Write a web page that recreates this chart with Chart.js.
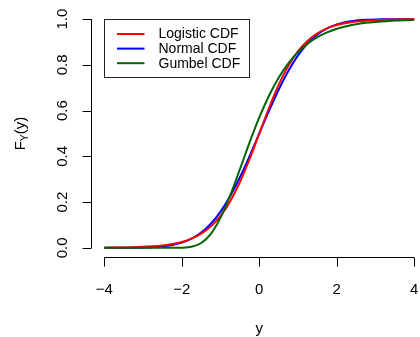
<!DOCTYPE html>
<html>
<head>
<meta charset="utf-8">
<script src="https://cdn.jsdelivr.net/npm/chart.js@4/dist/chart.umd.min.js"></script>
<style>
  html, body { margin: 0; padding: 0; background: #fff; overflow: hidden; }
  #wrap { position: relative; width: 420px; height: 337px; }
</style>
</head>
<body>
<div id="wrap"><canvas id="cdfChart" width="420" height="337"></canvas></div>
<script>
// values
const yValues = [-4, -3.75, -3.5, -3.25, -3, -2.75, -2.5, -2.25, -2, -1.75, -1.5, -1.25, -1, -0.75, -0.5, -0.25,
  0, 0.25, 0.5, 0.75, 1, 1.25, 1.5, 1.75, 2, 2.25, 2.5, 2.75, 3, 3.25, 3.5, 3.75, 4];
const logisticCdf = [0.0007, 0.0011, 0.0017, 0.0027, 0.0043, 0.0068, 0.0106, 0.0166, 0.0259, 0.0402, 0.0618, 0.0939,
  0.1401, 0.2042, 0.2876, 0.3885, 0.5000, 0.6115, 0.7124, 0.7958, 0.8599, 0.9061, 0.9382, 0.9598, 0.9741, 0.9834,
  0.9894, 0.9932, 0.9957, 0.9973, 0.9983, 0.9989, 0.9993];
const normalCdf = [0.0000, 0.0001, 0.0002, 0.0006, 0.0013, 0.0030, 0.0062, 0.0122, 0.0228, 0.0401, 0.0668, 0.1056,
  0.1587, 0.2266, 0.3085, 0.4013, 0.5000, 0.5987, 0.6915, 0.7734, 0.8413, 0.8944, 0.9332, 0.9599, 0.9772, 0.9878,
  0.9938, 0.9970, 0.9987, 0.9994, 0.9998, 0.9999, 1.0000];
const gumbelCdf = [0, 0, 0, 0, 0, 0, 0, 0, 0.0007, 0.0050, 0.0214, 0.0614,
  0.132, 0.230, 0.344, 0.461, 0.570, 0.665, 0.744, 0.807, 0.856, 0.893, 0.921, 0.942, 0.958, 0.969,
  0.978, 0.984, 0.988, 0.991, 0.994, 0.995, 0.997];

const seriesNames = ['Logistic CDF', 'Normal CDF', 'Gumbel CDF'];
const seriesColors = ['#ff0000', '#0000ff', '#006400'];

const xTicks = [-4, -2, 0, 2, 4];
const xTickLabels = ['\u22124', '\u22122', '0', '2', '4'];
const yTicks = [0, 0.2, 0.4, 0.6, 0.8, 1.0];
const yTickLabels = ['0.0', '0.2', '0.4', '0.6', '0.8', '1.0'];

const FONT = '"Liberation Sans", Arial, Helvetica, sans-serif';
const AXIS_FONT = '15px ' + FONT;
const LEGEND_FONT = '14px ' + FONT;

const toPoints = (vals) => vals.map((v, i) => ({ x: yValues[i], y: v }));

// R-style axes, labels and legend
const baseAxes = {
  id: 'baseAxes',
  afterDraw(chart) {
    const ctx = chart.ctx;
    const area = chart.chartArea;
    const xs = chart.scales.x;
    const ys = chart.scales.y;
    ctx.save();
    ctx.strokeStyle = '#000';
    ctx.fillStyle = '#000';
    ctx.lineWidth = 1;

    // x axis
    const xAxisY = Math.round(area.bottom) + 0.5;
    ctx.beginPath();
    ctx.moveTo(xs.getPixelForValue(xTicks[0]), xAxisY);
    ctx.lineTo(xs.getPixelForValue(xTicks[xTicks.length - 1]), xAxisY);
    xTicks.forEach(t => {
      const px = Math.round(xs.getPixelForValue(t)) + 0.5;
      ctx.moveTo(px, xAxisY);
      ctx.lineTo(px, xAxisY + 9);
    });
    ctx.stroke();
    ctx.font = AXIS_FONT;
    ctx.textAlign = 'center';
    ctx.textBaseline = 'alphabetic';
    xTicks.forEach((t, i) => {
      ctx.fillText(xTickLabels[i], xs.getPixelForValue(t), xAxisY + 36);
    });

    // y axis
    const yAxisX = Math.round(area.left) - 0.5;
    ctx.beginPath();
    ctx.moveTo(yAxisX, ys.getPixelForValue(yTicks[0]));
    ctx.lineTo(yAxisX, ys.getPixelForValue(yTicks[yTicks.length - 1]));
    yTicks.forEach(t => {
      const py = Math.round(ys.getPixelForValue(t)) + 0.5;
      ctx.moveTo(yAxisX, py);
      ctx.lineTo(yAxisX - 9, py);
    });
    ctx.stroke();
    yTicks.forEach((t, i) => {
      ctx.save();
      ctx.translate(yAxisX - 25, ys.getPixelForValue(t));
      ctx.rotate(-Math.PI / 2);
      ctx.fillText(yTickLabels[i], 0, 0);
      ctx.restore();
    });

    // axis titles
    ctx.fillText('y', xs.getPixelForValue(0), xAxisY + 75);
    ctx.save();
    ctx.translate(yAxisX - 67, (area.top + area.bottom) / 2);
    ctx.rotate(-Math.PI / 2);
    ctx.textAlign = 'left';
    const wF = ctx.measureText('F').width;
    ctx.font = '10.5px ' + FONT;
    const wSub = ctx.measureText('Y').width;
    ctx.font = AXIS_FONT;
    const wPar = ctx.measureText('(y)').width;
    const x0 = -(wF + wSub + wPar) / 2;
    ctx.fillText('F', x0, 0);
    ctx.font = '10.5px ' + FONT;
    ctx.fillText('Y', x0 + wF, 3.5);
    ctx.font = AXIS_FONT;
    ctx.fillText('(y)', x0 + wF + wSub, 0);
    ctx.restore();

    // legend
    const lx = Math.round(xs.getPixelForValue(-4)) + 0.5;
    const ly = Math.round(ys.getPixelForValue(1)) + 0.5;
    ctx.strokeStyle = '#222';
    ctx.strokeRect(lx, ly, 145, 58);
    ctx.font = LEGEND_FONT;
    ctx.textAlign = 'left';
    ctx.textBaseline = 'middle';
    seriesNames.forEach((name, i) => {
      const rowY = ly + 14.5 + i * 14.6;
      ctx.strokeStyle = seriesColors[i];
      ctx.lineWidth = 2;
      ctx.beginPath();
      ctx.moveTo(lx + 12.5, rowY);
      ctx.lineTo(lx + 40, rowY);
      ctx.stroke();
      ctx.fillStyle = '#000';
      ctx.fillText(name, lx + 54, rowY + 0.5);
    });
    ctx.restore();
  }
};

const cdfSets = [logisticCdf, normalCdf, gumbelCdf];
const drawOrder = [1, 2, 0];

new Chart(document.getElementById('cdfChart'), {
  type: 'line',
  data: {
    datasets: cdfSets.map((vals, i) => ({
      label: seriesNames[i],
      data: toPoints(vals),
      borderColor: seriesColors[i],
      borderWidth: 2,
      pointRadius: 0,
      fill: false,
      cubicInterpolationMode: 'monotone',
      order: drawOrder[i]
    }))
  },
  options: {
    responsive: false,
    animation: false,
    devicePixelRatio: 1,
    layout: { padding: { left: 92, top: 10, right: 0, bottom: 80 } },
    plugins: { legend: { display: false }, tooltip: { enabled: false } },
    scales: {
      x: { type: 'linear', min: -4.32, max: 4.15, display: false },
      y: { type: 'linear', min: -0.04, max: 1.04, display: false }
    }
  },
  plugins: [baseAxes]
});
</script>
</body>
</html>
